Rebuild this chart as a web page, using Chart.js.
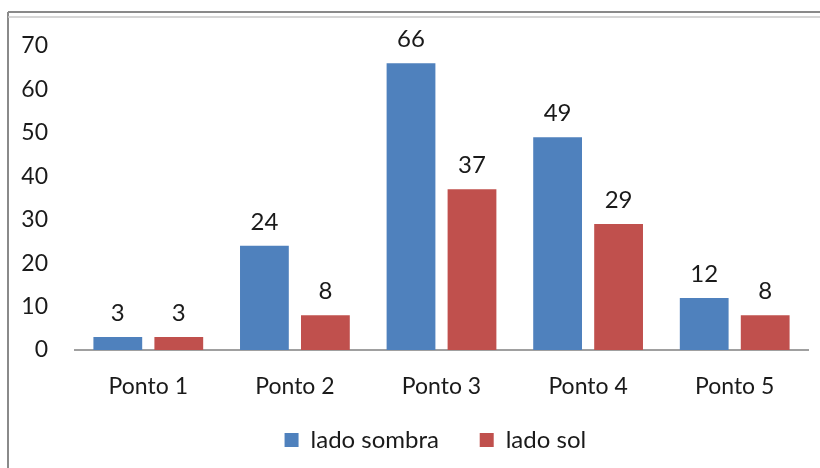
<!DOCTYPE html>
<html>
<head>
<meta charset="utf-8">
<script src="https://cdn.jsdelivr.net/npm/chart.js@4"></script>
<style>
  html, body { margin: 0; padding: 0; background: #fff; }
  #wrap { width: 820px; height: 468px; position: relative; }
</style>
</head>
<body>
<div id="wrap"><canvas id="chart" width="820" height="468"></canvas></div>
<script>
const categories = ['Ponto 1', 'Ponto 2', 'Ponto 3', 'Ponto 4', 'Ponto 5'];
const sombraValues = [3, 24, 66, 49, 12];
const solValues = [3, 8, 37, 29, 8];
const seriesNames = ['lado sombra', 'lado sol'];
const yTicks = [0, 10, 20, 30, 40, 50, 60, 70];

const FONT = 'Lato, "Open Sans", sans-serif';

// frame lines like the pasted spreadsheet chart box
const framePlugin = {
    id: 'frame',
    beforeDraw(chart) {
        const c = chart.ctx;
        c.save();
        c.fillStyle = '#fff';
        c.fillRect(0, 0, chart.width, chart.height);
        c.strokeStyle = '#8a8a8a';
        c.lineWidth = 2;
        c.beginPath();
        c.moveTo(8, 12); c.lineTo(chart.width, 12);
        c.moveTo(8, 12); c.lineTo(8, chart.height);
        c.stroke();
        c.strokeStyle = '#c8c8c8';
        c.lineWidth = 1.5;
        c.beginPath();
        c.moveTo(8, 17); c.lineTo(chart.width, 17);
        c.stroke();
        c.restore();
    }
};

// value labels above bars
const valueLabels = {
    id: 'valueLabels',
    afterDatasetsDraw(chart) {
        const c = chart.ctx;
        c.save();
        c.font = '24px ' + FONT;
        c.fillStyle = '#1a1a1a';
        c.textAlign = 'center';
        c.textBaseline = 'middle';
        chart.data.datasets.forEach((ds, i) => {
            chart.getDatasetMeta(i).data.forEach((bar, j) => {
                c.fillText(ds.data[j], bar.x, bar.y - 24);
            });
        });
        c.restore();
    }
};

new Chart(document.getElementById('chart'), {
    type: 'bar',
    data: {
        labels: categories,
        datasets: [
            { label: seriesNames[0], data: sombraValues, backgroundColor: '#4F81BD' },
            { label: seriesNames[1], data: solValues, backgroundColor: '#C0504D' }
        ]
    },
    options: {
        responsive: false,
        animation: false,
        categoryPercentage: 0.832,
        barPercentage: 0.8,
        layout: { padding: { top: 46, right: 12, bottom: 6, left: 0 } },
        plugins: {
            tooltip: { enabled: false },
            legend: {
                position: 'bottom',
                fullSize: false,
                labels: {
                    boxWidth: 14,
                    boxHeight: 14,
                    padding: 10,
                    color: '#1a1a1a',
                    font: { family: FONT, size: 24 },
                    // wider gaps between the legend entries
                    generateLabels: chart => {
                        const items = Chart.defaults.plugins.legend.labels.generateLabels(chart);
                        items[0].text += '     ';
                        items[1].text += '  ';
                        return items;
                    }
                }
            }
        },
        scales: {
            x: {
                grid: { display: false, drawTicks: false },
                border: { display: true, color: '#a0a0a0', width: 2 },
                ticks: { color: '#1a1a1a', padding: 23, font: { family: FONT, size: 23 } },
                afterFit: s => { s.height = 68; }
            },
            y: {
                min: 0,
                max: 70,
                afterBuildTicks: s => { s.ticks = yTicks.map(v => ({ value: v })); },
                grid: { display: false, drawTicks: false },
                border: { display: false },
                ticks: { color: '#1a1a1a', padding: 27, font: { family: FONT, size: 23 } },
                afterFit: s => { s.width = 75; }
            }
        }
    },
    plugins: [framePlugin, valueLabels]
});
</script>
</body>
</html>
